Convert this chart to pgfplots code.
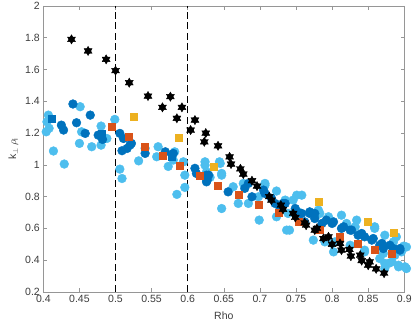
\documentclass[border=0pt]{standalone}
\usepackage{fontspec}
\setmainfont{Liberation Sans}
\usepackage{pgfplots}
\pgfplotsset{compat=1.18}
\definecolor{lb}{rgb}{0.301,0.745,0.933}
\definecolor{db}{rgb}{0,0.447,0.741}
\definecolor{orng}{rgb}{0.929,0.694,0.125}
\definecolor{rd}{rgb}{0.85,0.325,0.098}
\definecolor{axgray}{RGB}{150,150,150}
\definecolor{tkgray}{RGB}{60,60,60}
% filled six-pointed star (two triangles)
\pgfdeclareplotmark{hexagram}{%
  \pgfpathmoveto{\pgfqpointpolar{90}{\pgfplotmarksize}}%
  \pgfpathlineto{\pgfqpointpolar{210}{\pgfplotmarksize}}%
  \pgfpathlineto{\pgfqpointpolar{330}{\pgfplotmarksize}}%
  \pgfpathclose
  \pgfpathmoveto{\pgfqpointpolar{270}{\pgfplotmarksize}}%
  \pgfpathlineto{\pgfqpointpolar{30}{\pgfplotmarksize}}%
  \pgfpathlineto{\pgfqpointpolar{150}{\pgfplotmarksize}}%
  \pgfpathclose
  \pgfusepathqfillstroke}
\begin{document}
\begin{tikzpicture}
\path[use as bounding box] (-43.3pt,-36.3pt) rectangle (371.4pt,291.7pt);
\begin{axis}[
  scale only axis,
  width=360.7pt, height=285.7pt,
  xmin=0.4, xmax=0.9, ymin=0.2, ymax=2,
  xtick={0.4,0.45,0.5,0.55,0.6,0.65,0.7,0.75,0.8,0.85,0.9},
  ytick={0.2,0.4,0.6,0.8,1,1.2,1.4,1.6,1.8,2},
  tick align=inside,
  major tick length=3.6pt,
  axis line style={draw=axgray, line width=0.8pt},
  tick style={draw=axgray, line width=0.6pt},
  /pgf/number format/assume math mode=true,
  /pgf/number format/fixed,
  /pgf/number format/precision=2,
  ticklabel style={font=\fontsize{10.5}{12}\selectfont, text=tkgray},
  label style={font=\fontsize{10.5}{12}\selectfont, text=tkgray},
  xlabel={Rho},
  xlabel style={yshift=-2pt},
  ylabel={k\textsubscript{$\perp$}$\,\rho$\textsubscript{i}},
  clip=false,
]
% dashed guides
\addplot[black, line width=1pt, dash pattern=on 7pt off 3.5pt] coordinates {(0.5,0.2) (0.5,2)};
\addplot[black, line width=1pt, dash pattern=on 7pt off 3.5pt] coordinates {(0.6,0.2) (0.6,2)};
% light blue circles
\addplot[only marks, mark=*, mark size=4.4pt, mark options={fill=lb, draw=lb}] coordinates {
(0.404,1.208) (0.405,1.271) (0.407,1.313) (0.408,1.23) (0.414,1.087) (0.429,1.005)
(0.451,1.366) (0.45,1.135) (0.453,1.208) (0.467,1.114) (0.48,1.244) (0.48,1.124)
(0.488,1.166) (0.499,1.286) (0.506,0.973) (0.509,0.914) (0.532,1.025) (0.541,1.104)
(0.559,1.114) (0.557,1.051) (0.582,1.082) (0.58,1.03) (0.573,0.99) (0.594,1.019)
(0.596,0.935) (0.596,0.858) (0.585,0.814) (0.624,1.019) (0.624,0.998) (0.626,0.956)
(0.645,1.009) (0.644,1.019) (0.647,0.946) (0.631,0.921) (0.647,0.725) (0.663,0.862)
(0.647,0.935) (0.670,0.757) (0.707,0.883) (0.723,0.673) (0.737,0.589) (0.746,0.778)
(0.753,0.704) (0.758,0.809) (0.781,0.715)
(0.677,0.883) (0.707,0.872) (0.723,0.835) (0.698,0.799) (0.684,0.757) (0.699,0.652)
(0.735,0.778) (0.739,0.694) (0.751,0.809) (0.741,0.589) (0.774,0.526) (0.783,0.694)
(0.795,0.673) (0.813,0.683) (0.82,0.631) (0.834,0.652) (0.859,0.61) (0.873,0.557)
(0.832,0.61) (0.859,0.60) (0.889,0.547) (0.903,0.483)
(0.885,0.515) (0.899,0.488) (0.883,0.389) (0.873,0.379) (0.901,0.358) (0.892,0.358)
(0.871,0.442) (0.845,0.463) (0.802,0.452) (0.79,0.515) (0.804,0.515)
(0.80,0.505) (0.825,0.494) (0.845,0.452) (0.866,0.41) (0.878,0.379) (0.892,0.368)
(0.903,0.347) (0.873,0.347) (0.887,0.431) (0.896,0.452)
};
% dark blue circles
\addplot[only marks, mark=*, mark size=4.4pt, mark options={fill=db, draw=db}] coordinates {
(0.441,1.383) (0.465,1.313) (0.425,1.25) (0.428,1.219) (0.446,1.265) (0.458,1.198)
(0.476,1.187) (0.482,1.16) (0.506,1.198) (0.511,1.166) (0.509,1.089) (0.52,1.124)
(0.516,1.103) (0.522,1.135) (0.541,1.072) (0.569,1.082) (0.58,1.072) (0.61,0.978)
(0.612,0.946) (0.626,0.935) (0.626,0.914) (0.626,0.893) (0.629,0.935) (0.656,0.83)
(0.627,0.904) (0.679,0.852) (0.689,0.799) (0.705,0.841) (0.716,0.789) (0.732,0.757)
(0.684,0.883) (0.707,0.82) (0.721,0.757) (0.735,0.757) (0.756,0.694) (0.762,0.641)
(0.728,0.725) (0.749,0.725) (0.758,0.694) (0.769,0.694) (0.776,0.662) (0.786,0.631)
(0.769,0.704) (0.776,0.694) (0.792,0.652) (0.802,0.641) (0.816,0.61) (0.827,0.589)
(0.841,0.568) (0.857,0.536) (0.869,0.505) (0.88,0.494) (0.894,0.473)
(0.80,0.631) (0.813,0.60) (0.825,0.589) (0.836,0.557) (0.845,0.547) (0.855,0.526)
(0.866,0.494) (0.871,0.473) (0.885,0.473) (0.894,0.463)
};
% blue squares
\addplot[only marks, mark=square*, mark size=3.5pt, mark options={fill=db, draw=db}] coordinates {
(0.412,1.292) (0.481,1.194) (0.578,1.051)
};
% red squares
\addplot[only marks, mark=square*, mark size=3.5pt, mark options={fill=rd, draw=rd}] coordinates {
(0.495,1.24) (0.518,1.177) (0.541,1.114) (0.565,1.055) (0.589,0.992) (0.616,0.931)
(0.642,0.868) (0.670,0.809) (0.698,0.751) (0.726,0.70) (0.754,0.645) (0.783,0.589)
(0.811,0.547) (0.836,0.505) (0.859,0.467) (0.882,0.44)
};
% orange squares
\addplot[only marks, mark=square*, mark size=3.5pt, mark options={fill=orng, draw=orng}] coordinates {
(0.525,1.30) (0.588,1.168) (0.636,0.99) (0.782,0.767) (0.849,0.645) (0.886,0.572)
};
% black stars
\addplot[only marks, mark=hexagram, mark size=4.6pt, mark options={fill=black, draw=black}] coordinates {
(0.439,1.79) (0.462,1.717) (0.487,1.664) (0.500,1.593) (0.519,1.517) (0.545,1.433)
(0.565,1.362) (0.576,1.429) (0.585,1.293) (0.592,1.362) (0.604,1.219) (0.610,1.282)
(0.623,1.145) (0.625,1.20) (0.642,1.12) (0.658,1.05) (0.660,1.005) (0.673,0.975)
(0.677,0.942) (0.689,0.90) (0.696,0.866) (0.713,0.80) (0.716,0.778) (0.729,0.746)
(0.732,0.72) (0.746,0.694) (0.749,0.669) (0.762,0.635) (0.764,0.62) (0.776,0.589)
(0.779,0.60) (0.788,0.536) (0.795,0.547) (0.80,0.50) (0.811,0.505) (0.813,0.463)
(0.824,0.467) (0.826,0.425) (0.839,0.431) (0.841,0.397) (0.850,0.368) (0.852,0.389)
(0.861,0.345) (0.872,0.318)
};
\end{axis}
\end{tikzpicture}
\end{document}
